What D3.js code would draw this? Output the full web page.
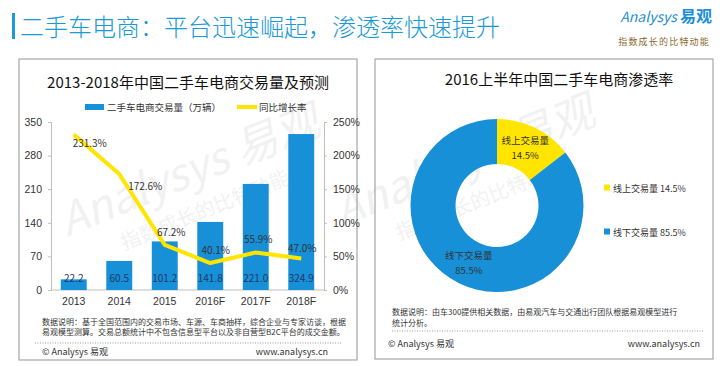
<!DOCTYPE html>
<html>
<head>
<meta charset="utf-8">
<script src="https://cdn.jsdelivr.net/npm/d3@7"></script>
<style>
  body { margin: 0; background: #fff; }
  svg { display: block; font-family: "Noto Sans CJK SC", "Noto Sans", sans-serif; }
</style>
</head>
<body>
<div id="chart"></div>
<script>
// left chart data
const years = ['2013', '2014', '2015', '2016F', '2017F', '2018F'];
const volumes = [22.2, 60.5, 101.2, 141.8, 221.0, 324.9];
const growth = [231.3, 172.6, 67.2, 40.1, 55.9, 47.0];
const volumeTicks = [0, 70, 140, 210, 280, 350];
const growthTicks = [0, 50, 100, 150, 200, 250];

// right chart data
const shareNames = ['线上交易量', '线下交易量'];
const shareValues = [14.5, 85.5];

const BLUE = '#1790d8', YELLOW = '#ffe500', TEXT = '#333', AXIS = '#bfbfbf';

const svg = d3.select('#chart').append('svg')
    .attr('width', 726)
    .attr('height', 366);

// watermark
const wm = svg.append('g').attr('fill', '#000').attr('opacity', 0.05);
[[195, 185], [470, 175]].forEach(([cx, cy]) => {
    const g = wm.append('g').attr('transform', `translate(${cx},${cy}) rotate(-22)`);
    g.append('text').attr('text-anchor', 'middle').attr('font-size', 44)
        .attr('font-style', 'italic').text('Analysys 易观');
    g.append('text').attr('text-anchor', 'middle').attr('y', 34).attr('font-size', 20)
        .text('指数成长的比特动能');
});

// header
svg.append('rect').attr('x', 12).attr('y', 13).attr('width', 3).attr('height', 26).attr('fill', '#1a9ad6');
svg.append('text').attr('x', 20).attr('y', 36).attr('font-size', 24).attr('font-weight', 300)
    .attr('fill', '#1a9ad6').text('二手车电商：平台迅速崛起，渗透率快速提升');
const logo = svg.append('text').attr('x', 712).attr('y', 22).attr('text-anchor', 'end')
    .attr('fill', '#1a8fd6');
logo.append('tspan').attr('font-size', 14).attr('font-style', 'italic').text('Analysys ');
logo.append('tspan').attr('font-size', 16).attr('font-weight', 'bold').text('易观');
svg.append('text').attr('x', 710).attr('y', 45).attr('text-anchor', 'end')
    .attr('font-size', 9).attr('fill', '#8b6a30').attr('letter-spacing', 1.2)
    .text('指数成长的比特动能');

// panel frames
[[19, 59, 338, 301], [375, 59, 338, 300]].forEach(([x, y, w, h]) => {
    svg.append('rect').attr('x', x).attr('y', y).attr('width', w).attr('height', h)
        .attr('fill', 'none').attr('stroke', '#a6a6a6').attr('stroke-width', 1.2);
});

// ---- left: bars + growth line ----
const left = svg.append('g');
left.append('text').attr('x', 188).attr('y', 88).attr('text-anchor', 'middle')
    .attr('font-size', 15).attr('fill', '#111').text('2013-2018年中国二手车电商交易量及预测');

left.append('rect').attr('x', 85).attr('y', 104).attr('width', 19).attr('height', 6).attr('fill', BLUE);
left.append('text').attr('x', 107).attr('y', 110.5).attr('font-size', 9.5).attr('fill', TEXT)
    .text('二手车电商交易量（万辆）');
left.append('rect').attr('x', 237).attr('y', 105).attr('width', 20).attr('height', 4).attr('fill', YELLOW);
left.append('text').attr('x', 259).attr('y', 110.5).attr('font-size', 9.5).attr('fill', TEXT)
    .text('同比增长率');

const x = d3.scaleBand().domain(years).range([51, 324]).paddingInner(0.43).paddingOuter(0.215);
const yL = d3.scaleLinear().domain([0, 350]).range([290, 122]);
const yR = d3.scaleLinear().domain([0, 250]).range([290, 122]);

const axL = left.append('g').attr('transform', 'translate(51,0)')
    .call(d3.axisLeft(yL).tickValues(volumeTicks).tickSize(3).tickPadding(6));
const axR = left.append('g').attr('transform', 'translate(324,0)')
    .call(d3.axisRight(yR).tickValues(growthTicks).tickSize(3).tickPadding(6).tickFormat(d => d + '%'));
const axB = left.append('g').attr('transform', 'translate(0,290)')
    .call(d3.axisBottom(x).tickSize(0).tickPadding(8));
[axL, axR, axB].forEach(a => {
    a.select('.domain').attr('stroke', AXIS);
    a.selectAll('.tick line').attr('stroke', AXIS);
    a.selectAll('text').attr('font-size', 10.5).attr('fill', TEXT).attr('font-family', null);
});
axB.select('.domain').attr('d', 'M51,0H324');

left.selectAll('.bar').data(volumes).enter().append('rect')
    .attr('x', (d, i) => x(years[i]))
    .attr('y', d => yL(d))
    .attr('width', x.bandwidth())
    .attr('height', d => yL(0) - yL(d))
    .attr('fill', BLUE);

left.selectAll('.vlabel').data(volumes).enter().append('text')
    .attr('x', (d, i) => x(years[i]) + x.bandwidth() / 2)
    .attr('y', yL(0) - 8)
    .attr('text-anchor', 'middle').attr('font-size', 10).attr('fill', '#1f3864')
    .text(d => d.toFixed(1));

const cx = i => x(years[i]) + x.bandwidth() / 2;
left.append('path').datum(growth)
    .attr('fill', 'none').attr('stroke', YELLOW).attr('stroke-width', 4)
    .attr('stroke-linejoin', 'round')
    .attr('d', d3.line().x((d, i) => cx(i)).y(d => yR(d)));

const labelOffsets = [[16, 12], [26, 15.5], [6.5, -8.5], [5.5, -9.5], [2.5, -9.5], [1, -6.5]];
left.selectAll('.glabel').data(growth).enter().append('text')
    .attr('x', (d, i) => cx(i) + labelOffsets[i][0])
    .attr('y', (d, i) => yR(d) + labelOffsets[i][1])
    .attr('text-anchor', 'middle').attr('font-size', 10).attr('fill', TEXT)
    .text(d => d.toFixed(1) + '%');

// notes as one wrapped text block
const noteL = left.append('text').attr('font-size', 8).attr('fill', TEXT);
noteL.append('tspan').attr('x', 42).attr('y', 324.5)
    .text('数据说明：基于全国范围内的交易市场、车源、车商抽样，综合企业与专家访谈，根据');
noteL.append('tspan').attr('x', 42).attr('y', 335)
    .text('易观模型测算。交易总额统计中不包含信息型平台以及非自营型B2C平台的成交金额。');
left.append('line').attr('x1', 35).attr('x2', 342).attr('y1', 343).attr('y2', 343)
    .attr('stroke', '#999').attr('stroke-dasharray', '1,1.5');
left.append('text').attr('x', 42).attr('y', 355).attr('font-size', 9).attr('fill', TEXT).text('© Analysys 易观');
left.append('text').attr('x', 328).attr('y', 355).attr('text-anchor', 'end').attr('font-size', 9)
    .attr('fill', TEXT).text('www.analysys.cn');

// ---- right: donut ----
const right = svg.append('g');
right.append('text').attr('x', 559).attr('y', 85).attr('text-anchor', 'middle')
    .attr('font-size', 15).attr('fill', '#111').text('2016上半年中国二手车电商渗透率');

const colors = [YELLOW, BLUE];
const pie = d3.pie().sort(null)(shareValues);
const arc = d3.arc().innerRadius(41.5).outerRadius(86.5);
const labelArc = d3.arc().innerRadius(64).outerRadius(64);
const donut = right.append('g').attr('transform', 'translate(497,205.5)');
donut.selectAll('path').data(pie).enter().append('path')
    .attr('d', arc).attr('fill', (d, i) => colors[i]);
donut.selectAll('.dl').data(pie).enter().append('text')
    .attr('transform', d => `translate(${labelArc.centroid(d)})`)
    .attr('text-anchor', 'middle').attr('font-size', 9.5).attr('fill', TEXT)
    .each(function (d, i) {
        const t = d3.select(this);
        t.append('tspan').attr('x', 0).attr('y', -4).text(shareNames[i]);
        t.append('tspan').attr('x', 0).attr('y', 11).text(shareValues[i].toFixed(1) + '%');
    });

const legY = d3.scalePoint().domain(shareNames).range([188, 232]);
shareNames.forEach((n, i) => {
    right.append('rect').attr('x', 604).attr('y', legY(n) - 3.5).attr('width', 6).attr('height', 6)
        .attr('fill', colors[i]);
    right.append('text').attr('x', 613).attr('y', legY(n) + 3.5).attr('font-size', 9).attr('fill', TEXT)
        .text(n + '  ' + shareValues[i].toFixed(1) + '%');
});

const noteR = right.append('text').attr('font-size', 8).attr('fill', TEXT);
noteR.append('tspan').attr('x', 392).attr('y', 315)
    .text('数据说明：由车300提供相关数据，由易观汽车与交通出行团队根据易观模型进行');
noteR.append('tspan').attr('x', 392).attr('y', 325.5).text('统计分析。');
right.append('line').attr('x1', 392).attr('x2', 703).attr('y1', 331).attr('y2', 331)
    .attr('stroke', '#999').attr('stroke-dasharray', '1,1.5');
right.append('text').attr('x', 388).attr('y', 347).attr('font-size', 9).attr('fill', TEXT).text('© Analysys 易观');
right.append('text').attr('x', 700).attr('y', 347).attr('text-anchor', 'end').attr('font-size', 9)
    .attr('fill', TEXT).text('www.analysys.cn');
</script>
</body>
</html>
